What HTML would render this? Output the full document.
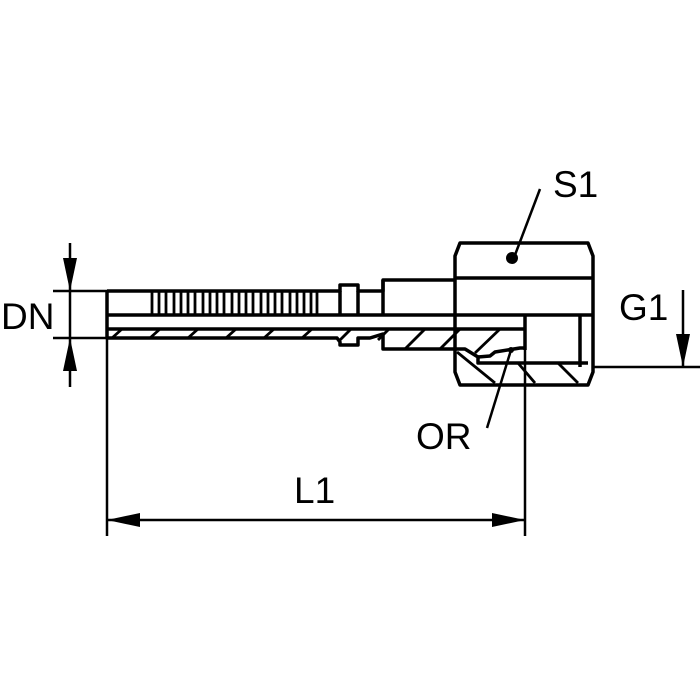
<!DOCTYPE html>
<html><head><style>body{margin:0;background:#fff}svg{display:block}text{font-family:"Liberation Sans",sans-serif;fill:#000}</style></head>
<body>
<svg width="700" height="700" viewBox="0 0 700 700" xmlns="http://www.w3.org/2000/svg">
<g fill="none" stroke="#000" stroke-width="3.5" stroke-linejoin="round">
<path d="M107,291 H340 V285 H358 V291 H383 V280 H455"/>
<line x1="107" y1="315" x2="593" y2="315"/>
<line x1="107" y1="329" x2="525" y2="329"/>
<path d="M107,291 V338 H337 L340,342 V345 H358 V338 H370 L383,334 V349 H455"/>
<line x1="340" y1="291" x2="340" y2="315"/>
<line x1="358" y1="291" x2="358" y2="315"/>
<line x1="383" y1="280" x2="383" y2="315"/>
<path d="M460,243 H588 L593,256 V372 L588,385 H460 L455,372 V256 Z"/>
<line x1="455" y1="278" x2="593" y2="278"/>
<line x1="525" y1="315" x2="525" y2="350"/>
<line x1="580" y1="315" x2="580" y2="367"/>
<path d="M455,349 H465 L478,357 L478,363 H588"/>
<path d="M478,357 L490,356 L495,352 L520,348 H525"/>
</g>
<g stroke="#000" stroke-width="2.8">
<line x1="152" y1="291" x2="152" y2="315"/><line x1="159" y1="291" x2="159" y2="315"/><line x1="166" y1="291" x2="166" y2="315"/><line x1="174" y1="291" x2="174" y2="315"/><line x1="181" y1="291" x2="181" y2="315"/><line x1="188" y1="291" x2="188" y2="315"/><line x1="195" y1="291" x2="195" y2="315"/><line x1="203" y1="291" x2="203" y2="315"/><line x1="210" y1="291" x2="210" y2="315"/><line x1="217" y1="291" x2="217" y2="315"/><line x1="224" y1="291" x2="224" y2="315"/><line x1="232" y1="291" x2="232" y2="315"/><line x1="239" y1="291" x2="239" y2="315"/><line x1="246" y1="291" x2="246" y2="315"/><line x1="253" y1="291" x2="253" y2="315"/><line x1="261" y1="291" x2="261" y2="315"/><line x1="268" y1="291" x2="268" y2="315"/><line x1="275" y1="291" x2="275" y2="315"/><line x1="282" y1="291" x2="282" y2="315"/><line x1="290" y1="291" x2="290" y2="315"/><line x1="297" y1="291" x2="297" y2="315"/><line x1="304" y1="291" x2="304" y2="315"/><line x1="311" y1="291" x2="311" y2="315"/><line x1="317" y1="291" x2="317" y2="315"/>
<line x1="112" y1="338" x2="122" y2="329"/><line x1="150" y1="338" x2="160" y2="329"/><line x1="188" y1="338" x2="198" y2="329"/><line x1="226" y1="338" x2="236" y2="329"/><line x1="264" y1="338" x2="274" y2="329"/><line x1="302" y1="338" x2="312" y2="329"/><line x1="340" y1="340" x2="351" y2="329"/><line x1="378" y1="340" x2="389" y2="329"/><line x1="405" y1="349" x2="425" y2="329"/><line x1="440" y1="349" x2="460" y2="329"/><line x1="475" y1="353" x2="500" y2="329"/>
<line x1="457" y1="352" x2="495" y2="383"/><line x1="518" y1="363" x2="535" y2="383"/><line x1="558" y1="363" x2="578" y2="383"/>
</g>
<g stroke="#000" stroke-width="2.5">
<line x1="70" y1="243" x2="70" y2="387"/>
<line x1="53" y1="291" x2="107" y2="291"/>
<line x1="53" y1="338" x2="107" y2="338"/>
<line x1="107" y1="338" x2="107" y2="536"/>
<line x1="525" y1="350" x2="525" y2="536"/>
<line x1="107" y1="520" x2="525" y2="520"/>
<line x1="593" y1="367" x2="700" y2="367"/>
<line x1="683" y1="290" x2="683" y2="367"/>
<line x1="540" y1="189" x2="515" y2="255"/>
<line x1="511" y1="350" x2="487" y2="428"/>
</g>
<g fill="#000">
<path d="M70,291 L63,258 H77 Z"/>
<path d="M70,338 L63,371 H77 Z"/>
<path d="M107,520 L140,513 V527 Z"/>
<path d="M525,520 L492,513 V527 Z"/>
<path d="M683,367 L676,334 H690 Z"/>
<circle cx="512" cy="258" r="6"/>
<circle cx="511" cy="350" r="3"/>
</g>
<text x="1" y="329" font-size="37">DN</text>
<text x="553" y="197" font-size="37">S1</text>
<text x="619" y="320" font-size="37">G1</text>
<text x="416" y="449" font-size="37">OR</text>
<text x="294" y="503" font-size="37">L1</text>
</svg>
</body></html>
